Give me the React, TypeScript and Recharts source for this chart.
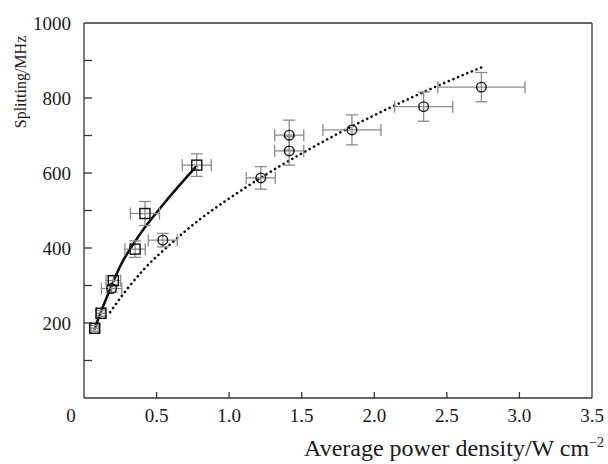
import React from 'react';
import { ComposedChart, XAxis, YAxis, Line, Scatter, ErrorBar, ReferenceLine } from 'recharts';

// Square series (solid line)
const squareX = [0.074, 0.117, 0.202, 0.352, 0.42, 0.777];
const squareY = [186, 226, 313, 397, 492, 621];
const squareEx = [0.025, 0.03, 0.05, 0.07, 0.1, 0.1];
const squareEy = [8, 8, 13, 22, 32, 30];

// Circle series (dotted line)
const circleX = [0.19, 0.543, 1.218, 1.414, 1.414, 1.846, 2.34, 2.738];
const circleY = [292, 421, 587, 701, 659, 715, 777, 829];
const circleEx = [0.07, 0.1, 0.1, 0.1, 0.1, 0.2, 0.2, 0.3];
const circleEy = [10, 18, 30, 40, 38, 40, 39, 39];

// Solid fit curve through squares
const solidX = [0.07, 0.15, 0.25, 0.386, 0.55, 0.777];
const solidY = [182, 262, 352, 437, 518, 619];

// Dotted fit curve through circles
const dottedX = [0.18, 0.3, 0.41, 0.6, 0.8, 1.0, 1.25, 1.5, 1.75, 2.0, 2.25, 2.5, 2.74];
const dottedY = [229, 292, 342, 412, 477, 532, 595, 652, 705, 754, 800, 843, 882];

const xTicks = [0, 0.5, 1, 1.5, 2, 2.5, 3, 3.5];
const xTickLabels = ['0', '0.5', '1.0', '1.5', '2.0', '2.5', '3.0', '3.5'];
const yTicks = [0, 100, 200, 300, 400, 500, 600, 700, 800, 900, 1000];
const yLabelTicks = [200, 400, 600, 800, 1000];

const squareData = squareX.map((x, i) => ({ x, y: squareY[i], ex: squareEx[i], ey: squareEy[i] }));
const circleData = circleX.map((x, i) => ({ x, y: circleY[i], ex: circleEx[i], ey: circleEy[i] }));
const solidData = solidX.map((x, i) => ({ x, y: solidY[i] }));
const dottedData = dottedX.map((x, i) => ({ x, y: dottedY[i] }));

const FONT = "'Liberation Serif', 'Times New Roman', 'DejaVu Serif', serif";
const TEXT = '#1a1a1a';
const AXIS = '#333';
const ERR = '#8a8a8a';

const XTick = (props: any) => {
  const { x, y, payload } = props;
  const v = payload.value;
  const idx = xTicks.indexOf(v);
  const label = idx >= 0 ? xTickLabels[idx] : String(v);
  const dx = v === 0 ? -13 : 0;
  return (
    <g>
      {v !== 0 && v !== 3.5 && <line x1={x} x2={x} y1={y} y2={y - 6} stroke={AXIS} strokeWidth={1.3} />}
      <text x={x + dx} y={y + 24} textAnchor="middle" style={{ fontFamily: FONT, fontSize: 19 }} fill={TEXT}>
        {label}
      </text>
    </g>
  );
};

const YTick = (props: any) => {
  const { x, y, payload } = props;
  const v = payload.value;
  return (
    <g>
      {v !== 0 && v !== 1000 && <line x1={x} x2={x + 8} y1={y} y2={y} stroke={AXIS} strokeWidth={1.3} />}
      {yLabelTicks.includes(v) && (
        <text x={x - 13} y={y + 6.5} textAnchor="end" style={{ fontFamily: FONT, fontSize: 19 }} fill={TEXT}>
          {v}
        </text>
      )}
    </g>
  );
};

const SquareShape = (props: any) => {
  const { cx, cy } = props;
  if (cx == null || cy == null) return null;
  return <rect x={cx - 5} y={cy - 5} width={10} height={10} fill="none" stroke="#111" strokeWidth={1.4} />;
};

const CircleShape = (props: any) => {
  const { cx, cy } = props;
  if (cx == null || cy == null) return null;
  return <circle cx={cx} cy={cy} r={4.8} fill="none" stroke="#111" strokeWidth={1.4} />;
};

const XLabel = (props: any) => {
  const vb = props.viewBox || { x: 84, y: 398, width: 507.5, height: 66 };
  return (
    <text x={vb.x + vb.width + 12} y={vb.y + 58} textAnchor="end" style={{ fontFamily: FONT, fontSize: 24 }} fill={TEXT}>
      Average power density/W cm
      <tspan style={{ fontSize: 14 }} dy={-9}>−2</tspan>
    </text>
  );
};

const YLabel = (props: any) => {
  const vb = props.viewBox || { x: 0, y: 23, width: 84, height: 375 };
  const cx = vb.x + 20;
  const cy = vb.y + 59;
  return (
    <text
      x={cx}
      y={cy}
      transform={`rotate(-90, ${cx}, ${cy})`}
      textAnchor="middle"
      dominantBaseline="central"
      style={{ fontFamily: FONT, fontSize: 16 }}
      fill={TEXT}
    >
      Splitting/MHz
    </text>
  );
};

export default function App() {
  return (
    <div style={{ position: 'absolute', left: 0, top: 0, width: 608, height: 464, background: '#fff' }}>
      <ComposedChart width={608} height={464} margin={{ top: 23, right: 16, left: 0, bottom: 0 }}>
        <XAxis
          type="number"
          dataKey="x"
          domain={[0, 3.5]}
          ticks={xTicks}
          tick={<XTick />}
          tickSize={0}
          tickMargin={0}
          tickLine={false}
          axisLine={{ stroke: AXIS, strokeWidth: 1.3 }}
          height={66}
          allowDataOverflow
          interval={0}
          label={<XLabel />}
        />
        <YAxis
          type="number"
          dataKey="y"
          domain={[0, 1000]}
          ticks={yTicks}
          tick={<YTick />}
          tickSize={0}
          tickMargin={0}
          tickLine={false}
          axisLine={{ stroke: AXIS, strokeWidth: 1.3 }}
          width={84}
          allowDataOverflow
          interval={0}
          label={<YLabel />}
        />
        <ReferenceLine y={1000} stroke={AXIS} strokeWidth={1.3} />
        <ReferenceLine x={3.5} stroke={AXIS} strokeWidth={1.3} />
        <Line
          data={dottedData}
          dataKey="y"
          type="monotone"
          stroke="#111"
          strokeWidth={2.6}
          strokeDasharray="0.1 4.9"
          strokeLinecap="round"
          dot={false}
          activeDot={false}
          isAnimationActive={false}
        />
        <Line
          data={solidData}
          dataKey="y"
          type="monotone"
          stroke="#111"
          strokeWidth={2.6}
          dot={false}
          activeDot={false}
          isAnimationActive={false}
        />
        <Scatter data={circleData} dataKey="y" shape={<CircleShape />} isAnimationActive={false}>
          <ErrorBar dataKey="ex" direction="x" width={6} stroke={ERR} strokeWidth={1.3} />
          <ErrorBar dataKey="ey" direction="y" width={6} stroke={ERR} strokeWidth={1.3} />
        </Scatter>
        <Scatter data={squareData} dataKey="y" shape={<SquareShape />} isAnimationActive={false}>
          <ErrorBar dataKey="ex" direction="x" width={6} stroke={ERR} strokeWidth={1.3} />
          <ErrorBar dataKey="ey" direction="y" width={6} stroke={ERR} strokeWidth={1.3} />
        </Scatter>
      </ComposedChart>
    </div>
  );
}
